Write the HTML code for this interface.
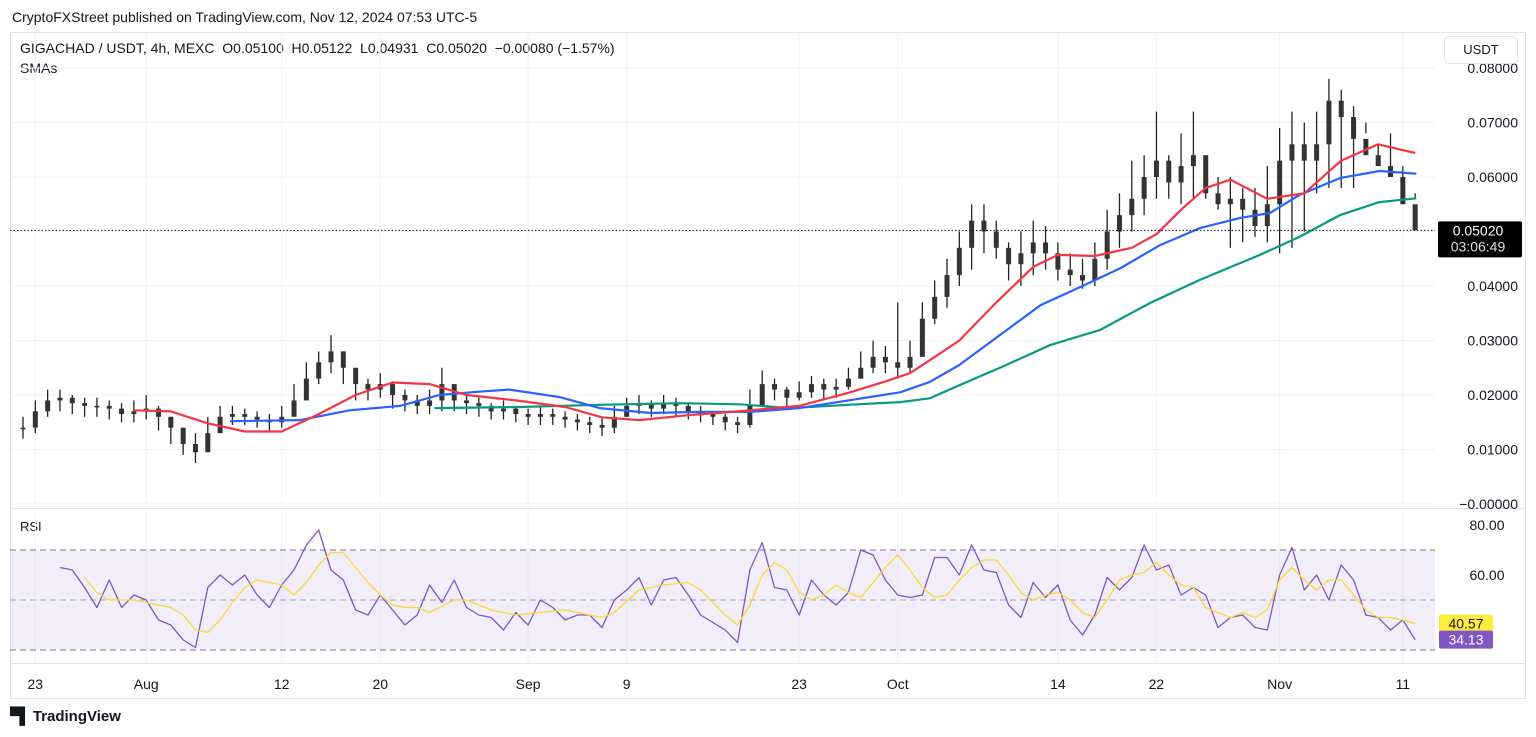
<!DOCTYPE html>
<html><head><meta charset="utf-8">
<style>
body{margin:0;background:#fff;font-family:"Liberation Sans",sans-serif;}
#wrap{position:relative;width:1536px;height:737px;overflow:hidden;}
.t{position:absolute;white-space:nowrap;color:#131722;}
</style></head>
<body>
<div id="wrap">
<div class="t" style="left:12px;top:9px;font-size:14px">CryptoFXStreet published on TradingView.com, Nov 12, 2024 07:53 UTC-5</div>
<div class="t" style="left:20px;top:40px;font-size:14px">GIGACHAD / USDT, 4h, MEXC&nbsp; O0.05100&nbsp; H0.05122&nbsp; L0.04931&nbsp; C0.05020&nbsp; −0.00080 (−1.57%)</div>
<div class="t" style="left:20px;top:60px;font-size:14px">SMAs</div>
<div class="t" style="left:20px;top:519px;font-size:13px">RSI</div>
<div class="t" style="left:1444px;top:36px;width:72px;height:26px;border:1px solid #e0e3eb;border-radius:5px;font-size:13px;line-height:26px;text-align:center;background:#fff;z-index:2">USDT</div>
<div class="t" style="left:10px;top:708px;font-size:15px;font-weight:bold"><span style="font-size:16px;letter-spacing:-2px">▀▌</span> TradingView</div>
<svg id="svg" width="1536" height="737" style="position:absolute;left:0;top:0"></svg>
</div>
<script>
const days=[];for(let i=0;i<114;i++)days.push(i);
const closeV=[14,17,19,19.5,18.5,18,18,17.5,16.5,17,17.5,16,14,11,9.5,13,16,16.5,16,15.5,15,16,19,23,26,28,25,22,21,22,20,19,18,19,22,19,18.5,18,17,17.5,16.5,16,16.5,16,15.5,15,14.5,14,16,18,18.5,17.5,18.5,18,17,16.5,16,15,14.5,18,22,21,19.5,20.5,22,21,21.5,23,25,27,26,25,27,34,38,42,47,52,50,47,44,46,48,46,43,42,41,45,50,53,56,60,63,59,62,64,57,55,56,54,51,55,63,66,63,66,74,71,67,64,62,60,55,50.2];
const highV=[16,19,21,21,20,19.5,19.5,19,18.5,19,20,18,16,14,13,16,18,18,17.5,17,16.5,18,22,26,28,31,28,24,23,24,22.5,21,20,21,25,21,20,19.5,18.5,19,18,17.5,18,17.5,17,16.5,16,16,18,19.5,20,19,20,19.5,18.5,18,17,16.5,16,21,24.5,23,21.5,22.5,23.5,23,23,25,28,30,29,37,30,37,41,45,50,55,55,52,48,50,52,51,48,46,45,48,54,57,63,64,72,64,68,72,63,60,60,58,58,62,69,72,70,72,78,76,73,70,66,68,62,56];
const lowV=[12,13,16,17,16.5,16,16,15.5,15,15,15.5,13.5,11,9,7.5,9.5,13,14.5,14.5,14,13.5,14,17,20,22,24,22,19,19,19.5,17.5,17,16.5,16.5,17,17,16.5,16,15.5,15.5,15,14.5,14.5,14.5,14,13.5,13,12.5,13,16,16.5,16,16.5,16,15.5,15,14.5,13.5,13,14,19,19,18,19,19.5,19,19.5,21,23,24,24,23,24,27,33,36,40,43,46,45,41,40,42,43,41,40,39.5,40,43,47,50,53,56,56,55,56,56,54,47,48,49,48,46,47,50,57,58,58,58,68,64,62,60,57,56,49.5,49.3];
const redDays=[9,12,15,18,21,24,27,30,33,36,40,44,47,50,54,57,59,63,67,70,72,74,76,79,82,84,87,90,92,94,96,98,101,104,107,110,113];
const redVals=[17.2,17,14.8,13.3,13.3,16.5,20,22.3,22,20,19,17.8,15.9,15.4,16.3,16.8,17.2,18,20.4,22.5,24,27,30,37,43.5,45.7,45.5,47,49.5,54,58,59.5,56,57,63,66,64.4];
const blueDays=[16.8,22.5,26.5,30.6,33.8,37,39.5,43.6,46.8,50.9,55,59,63,67,71.2,73.6,76,79.3,82.6,85.8,89.1,92.3,95.5,98.8,101.2,103.6,106.9,110.1,113.1];
const blueVals=[15.2,15.4,17.2,18,20,20.6,21,19.6,17.6,16.7,16.9,16.9,17.6,19,20.5,22.4,25.5,31,36.5,39.8,43.3,47.5,50.6,52.5,53.4,56.7,59.8,61.1,60.6];
const greenDays=[33.4,40.3,46.8,53.3,58.2,62.2,67,71.2,73.6,76,79.3,83.4,87.4,91.5,95.5,100.4,103.6,106.9,110.1,113.1];
const greenVals=[17.6,17.8,18.2,18.5,18.3,17.6,18.2,18.7,19.4,21.8,25,29.2,31.9,36.9,41.1,45.7,49,53,55.4,56.1];
const rsiStart=3;
const rsiVals=[63,62,55,47,58,47,52,50,42,40,34,31,55,60,56,60,52,47,56,62,72,78,62,58,46,44,52,46,40,44,56,49,58,47,44,43,38,45,40,50,47,42,44,44,39,50,54,59,48,58,59,52,44,41,38,33,62,73,55,54,44,58,52,48,53,70,68,58,52,51,52,67,67,60,72,62,61,48,43,57,51,56,42,36,44,59,54,59,72,62,64,52,55,52,39,43,44,39,38,60,71,54,60,50,64,58,44,43,38,42,34.13];
const maDays=[5,6,7,9,11,12,13,14,15,16,17,18,19,21,22,23,24,25,26,27,28,29,30,31,32,33,35,36,38,40,42,44,46,47,48,50,52,54,55,56,57,58,59,60,61,62,63,64,65,66,67,68,69,70,71,72,73,74,75,76,77,78,79,80,81,82,83,84,85,86,87,88,89,90,91,92,93,94,95,96,97,98,99,100,101,102,103,104,105,106,107,108,109,110,111,112,113];
const maVals=[59,53,50,50,48,47,44,38,37,42,49,55,58,56,52,57,64,69,69,63,57,52,48,47,47,45,50,50,46,44,45,46,44,43,45,54,56,57,54,49,44,40,48,60,65,62,53,50,52,56,53,51,57,63,68,62,55,51,52,58,63,66,66,60,53,50,52,53,50,45,43,50,58,60,61,65,60,56,55,47,45,43,45,43,46,58,63,58,54,58,58,52,46,43,43,42,40.57];
const priceTicks=["0.08000","0.07000","0.06000","0.05000","0.04000","0.03000","0.02000","0.01000","−0.00000"];
const priceTickVals=[80,70,60,50,40,30,20,10,0];
const rsiTicks=["80.00","60.00"];const rsiTickVals=[80,60];
const dateLabels=["23","Aug","12","20","Sep","9","23","Oct","14","22","Nov","11"];
const dateDays=[1,10,21,29,41,49,63,71,84,92,102,112];
const lastPrice=50.2;

const xOf=d=>23+12.32*d, yP=m=>504-5.45*m, yR=v=>650-2.5*(v-30);
const svg=document.getElementById('svg');const NS='http://www.w3.org/2000/svg';
function mk(tag,at,parent){const e=document.createElementNS(NS,tag);for(const k in at)e.setAttribute(k,at[k]);(parent||svg).appendChild(e);return e;}
let e=mk('rect',{x:10.5,y:32.5,width:1515,height:666,fill:'none',stroke:'#e0e3eb'});


e=mk('line',{x1:10,x2:1525,y1:508.5,y2:508.5,stroke:'#e0e3eb'});


e=mk('line',{x1:10,x2:1525,y1:663.5,y2:663.5,stroke:'#e0e3eb'});


priceTickVals.forEach((v,i)=>{const y=yP(v);
 const g=mk('line',{x1:10,x2:1435,y1:y,y2:y,stroke:'#f3f3f4'});
 
 
 const t=mk('text',{x:1518,y:y+5,'font-size':14,'text-anchor':'end',fill:'#131722','font-family':'Liberation Sans'});t.textContent=priceTicks[i];
 
 });
dateDays.forEach((d,i)=>{const x=xOf(d);
 const g=mk('line',{x1:x,x2:x,y1:33,y2:663,stroke:'#f3f3f4'});
 
 
 const t=mk('text',{x:x,y:689,'font-size':14,'text-anchor':'middle',fill:'#131722','font-family':'Liberation Sans'});t.textContent=dateLabels[i];
 
 });
e=mk('rect',{x:10,y:yR(70),width:1425,height:yR(30)-yR(70),fill:'rgba(126,87,194,0.1)'});


[70,50,30].forEach(v=>{const l=mk('line',{x1:10,x2:1435,y1:yR(v),y2:yR(v),stroke:v==50?'#a0a0a8':'#787b86','stroke-dasharray':'6,4'});
 
 });
rsiTickVals.forEach((v,i)=>{const t=mk('text',{x:1487,y:yR(v)+5,'font-size':14,'text-anchor':'middle',fill:'#131722','font-family':'Liberation Sans'});t.textContent=rsiTicks[i];
 
 });
const n=Math.min(closeV.length,highV.length,lowV.length);
for(let i=0;i<n;i++){const x=xOf(days[i]);const o=i?closeV[i-1]:closeV[i];const c=closeV[i];
 const w=mk('line',{x1:x,x2:x,y1:yP(highV[i]),y2:yP(lowV[i]),stroke:'#222','stroke-width':1.3});
 
 
 const b=mk('rect',{x:x-2.5,y:yP(Math.max(o,c)),width:5,height:Math.max(1.5,Math.abs(yP(o)-yP(c))),fill:'#333'});
 
 }
function line(ds,vs,yf,col,w){const p=ds.map((d,i)=>xOf(d).toFixed(1)+','+yf(vs[i]).toFixed(1)).join(' ');
 return mk('polyline',{points:p,fill:'none',stroke:col,'stroke-width':w,'stroke-linejoin':'round'});}
e=line(greenDays,greenVals,yP,'#089981',2.2);


e=line(blueDays,blueVals,yP,'#2962ff',2.2);


e=line(redDays,redVals,yP,'#f23645',2.2);


e=line(rsiVals.map((_,i)=>rsiStart+i),rsiVals,yR,'#7e57c2',1.3);


e=line(maDays,maVals,yR,'#fdd835',1.3);


const ly=yP(lastPrice);
e=mk('line',{x1:10,x2:1435,y1:ly,y2:ly,stroke:'#131722','stroke-dasharray':'1.5,2'});


e=mk('rect',{x:1438,y:ly-9,width:84,height:36,rx:2,fill:'#000'});


e=mk('text',{x:1478,y:ly+5,'font-size':14,'text-anchor':'middle',fill:'#fff','font-family':'Liberation Sans'});e.textContent='0.05020';


e=mk('text',{x:1478,y:ly+21,'font-size':14,'text-anchor':'middle',fill:'#ddd','font-family':'Liberation Sans'});e.textContent='03:06:49';


const lastMa=maVals[maVals.length-1], lastRsi=rsiVals[rsiVals.length-1];
e=mk('rect',{x:1439,y:yR(lastMa)-9,width:54,height:18,rx:2,fill:'#ffeb3b'});


e=mk('text',{x:1466,y:yR(lastMa)+5,'font-size':14,'text-anchor':'middle',fill:'#131722','font-family':'Liberation Sans'});e.textContent=lastMa.toFixed(2);


e=mk('rect',{x:1439,y:yR(lastRsi)-9,width:54,height:18,rx:2,fill:'#7e57c2'});


e=mk('text',{x:1466,y:yR(lastRsi)+5,'font-size':14,'text-anchor':'middle',fill:'#fff','font-family':'Liberation Sans'});e.textContent=lastRsi.toFixed(2);


</script>
</body></html>
